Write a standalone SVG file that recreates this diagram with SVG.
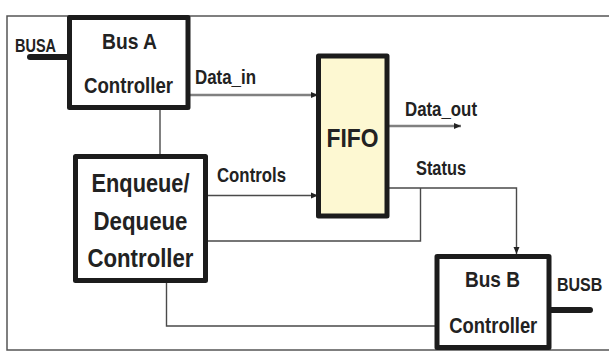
<svg xmlns="http://www.w3.org/2000/svg" width="609" height="356" viewBox="0 0 609 356">
<defs>
<style>
.frame{fill:none;stroke:#555;stroke-width:1.5}
.box{fill:#fff;stroke:#1c1c1c;stroke-width:5;stroke-linejoin:round}
.fifo{fill:#fdf8d2}
.w{fill:none;stroke:#4a4a4a;stroke-width:1.4}
.d{fill:none;stroke:#808080;stroke-width:2.6}
.bus{fill:none;stroke:#1c1c1c;stroke-width:6}
.t{font-family:"Liberation Sans",Arial,sans-serif;font-weight:bold;fill:#222}
.m{text-anchor:middle}
</style>
<marker id="ah" markerUnits="userSpaceOnUse" markerWidth="7" markerHeight="7" refX="7" refY="3.5" orient="auto">
<path d="M0,0.5 L7,3.5 L0,6.5 z" fill="#222"/>
</marker>
</defs>
<rect class="frame" x="7" y="16" width="610" height="334"/>
<g id="connectors">
<path class="d" d="M190 95 H318" marker-end="url(#ah)"/>
<path class="w" d="M208 195.5 H318" marker-end="url(#ah)"/>
<path class="d" d="M389 126 H461" marker-end="url(#ah)"/>
<path class="w" d="M389 188 H516.5 V254" marker-end="url(#ah)"/>
<path class="w" d="M420.5 188 V241 H208"/>
<path class="w" d="M160 110 V154"/>
<path class="w" d="M166.5 283 V326 H435"/>
<path class="bus" d="M30 57 H70" stroke-linecap="round"/>
<path class="bus" d="M551 310 H590" stroke-linecap="round"/>
</g>
<g id="busA">
<rect class="box" x="69.5" y="17.5" width="118.5" height="90"/>
<text class="t m" x="129.5" y="49" font-size="21.5" textLength="55" lengthAdjust="spacingAndGlyphs">Bus A</text>
<text class="t m" x="128.5" y="93" font-size="22" textLength="89" lengthAdjust="spacingAndGlyphs">Controller</text>
</g>
<g id="busa-label">
<text class="t" x="15" y="52" font-size="19" textLength="41" lengthAdjust="spacingAndGlyphs">BUSA</text>
</g>
<g id="enqueue">
<rect class="box" x="75.5" y="156.5" width="130" height="124"/>
<text class="t m" x="140.5" y="192" font-size="26.5" textLength="98" lengthAdjust="spacingAndGlyphs">Enqueue/</text>
<text class="t m" x="140.5" y="230" font-size="26.5" textLength="94" lengthAdjust="spacingAndGlyphs">Dequeue</text>
<text class="t m" x="140.5" y="267" font-size="26.5" textLength="106" lengthAdjust="spacingAndGlyphs">Controller</text>
</g>
<g id="fifo">
<rect class="box fifo" x="318.5" y="56" width="68.5" height="160"/>
<text class="t m" x="352.5" y="146.5" font-size="26" textLength="52" lengthAdjust="spacingAndGlyphs">FIFO</text>
</g>
<g id="busB">
<rect class="box" x="437" y="256.5" width="112" height="91"/>
<text class="t m" x="492.5" y="287" font-size="21.5" textLength="55" lengthAdjust="spacingAndGlyphs">Bus B</text>
<text class="t m" x="493.3" y="332.5" font-size="22" textLength="88" lengthAdjust="spacingAndGlyphs">Controller</text>
</g>
<g id="labels">
<text class="t" x="195" y="84" font-size="20" textLength="61" lengthAdjust="spacingAndGlyphs">Data_in</text>
<text class="t" x="217" y="182" font-size="21" textLength="69" lengthAdjust="spacingAndGlyphs">Controls</text>
<text class="t" x="405" y="116" font-size="20" textLength="72" lengthAdjust="spacingAndGlyphs">Data_out</text>
<text class="t" x="416" y="175" font-size="20" textLength="50" lengthAdjust="spacingAndGlyphs">Status</text>
<text class="t" transform="translate(557 290.5) scale(1 1.2)" x="0" y="0" font-size="16">BUSB</text>
</g>
</svg>
